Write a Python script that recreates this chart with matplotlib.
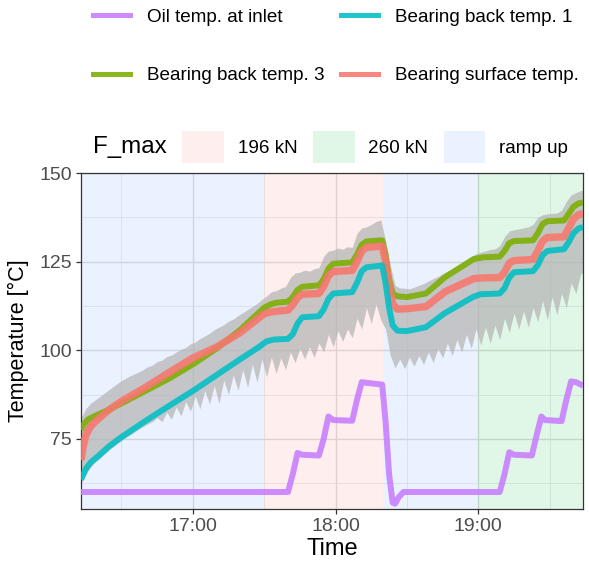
import matplotlib
matplotlib.use("Agg")
import matplotlib.pyplot as plt
import matplotlib.dates as mdates
from matplotlib.lines import Line2D
from matplotlib.patches import Patch
import pandas as pd

plt.rcParams["font.family"] = ["Liberation Sans", "DejaVu Sans"]

# test run started 16:00, times below are minutes after that
T0 = pd.Timestamp("2021-03-04 16:00")

def to_time(minutes):
    return T0 + pd.to_timedelta(list(minutes), unit="min")

# load phases
phase_start = [13, 90, 140, 180]
phase_end = [90, 140, 180, 224]
phase_label = ["ramp up", "196 kN", "ramp up", "260 kN"]
phase_levels = ["196 kN", "260 kN", "ramp up"]
phase_colors = ["#F8766D", "#00BA38", "#619CFF"]

# oil temperature at inlet
oil_t = [13, 100, 102, 104, 106, 113, 115, 117, 119, 127, 129, 131, 133, 139.6,
         141, 142.5, 144, 145, 146.5, 148.5, 189, 191, 193, 195, 202.5, 204.5,
         206.5, 208, 215, 217, 219, 221, 224]
oil_v = [60, 60, 65, 71, 70.5, 70.3, 75, 81.3, 80.3, 80.1, 86, 91, 90.8, 90.3,
         80, 65, 57, 56.7, 58.5, 60, 60, 65, 71.2, 70.5, 70.3, 76,
         81.3, 80.3, 80, 86, 91.2, 91, 90]

# bearing back temperature 1
back1_t = [13, 14, 15, 17, 20, 25, 30, 40, 50, 60, 70, 80, 88, 91, 94, 100, 102,
           104, 106, 113, 115, 117, 119, 127, 129, 131, 133, 139.6, 141, 142.5,
           144, 146, 150, 158, 166, 178, 181, 189, 191, 193, 195, 203, 205, 207,
           209, 216, 218, 220, 222, 224]
back1_v = [63.5, 65, 66.5, 68.3, 70, 73, 75.5, 80, 84.3, 88.5, 93, 97.5, 101,
           102.5, 103, 103.2, 104.5, 107.5, 109.3, 109.6, 111.5, 114.5, 116,
           116.4, 119, 122.3, 123.4, 123.9, 119, 112, 107, 105.5, 105.4, 106.5,
           110.5, 115.1, 115.8, 116, 117.5, 120.5, 122, 122.3, 124, 126.8, 128,
           128.5, 130.5, 133, 134.3, 134.8]

# bearing back temperature 3
back3_t = [13, 14, 16, 20, 25, 30, 40, 50, 60, 70, 80, 90, 93, 95, 100, 102, 104,
           106, 113, 115, 117, 119, 127, 129, 131, 133, 139.6, 141, 142.5, 144,
           146, 150, 158, 166, 178, 182, 189, 191, 193, 195, 203, 205, 207, 209,
           216, 218, 220, 222, 224]
back3_v = [77.5, 79, 80.5, 81.8, 83.3, 85, 88.5, 92, 96, 100.5, 105.8, 112, 113,
           113.4, 113.7, 115, 117, 117.9, 118.3, 120, 123, 124.4, 124.8, 127,
           129.8, 130.7, 131, 127, 120, 116, 115.2, 115, 116, 120.6, 125.7,
           126.2, 126.4, 128, 130.2, 130.8, 131, 133, 135.6, 136.4, 136.6, 138.5,
           140.5, 141.4, 141.7]

# bearing surface temperature
surf_t = [13, 14, 15, 17, 20, 25, 30, 40, 50, 60, 70, 80, 90, 93, 95, 100, 102,
          104, 106, 113, 115, 117, 119, 127, 129, 131, 133, 139.6, 141, 142.5,
          144, 146, 150, 158, 166, 178, 182, 189, 191, 193, 195, 203, 205, 207,
          209, 216, 218, 220, 222, 224]
surf_v = [69, 73, 76, 78.5, 80.5, 83.3, 85.6, 89.5, 93.7, 97.8, 100.9, 105,
          110.3, 110.8, 111, 111.3, 112.8, 114.8, 115.8, 116, 118, 121, 122.2,
          122.5, 125, 128, 129, 129.4, 125, 118, 113, 111.6, 111.7, 112.3, 116.5,
          120.2, 120.4, 120.5, 122, 124.6, 125.3, 125.6, 128, 130.8, 131.8, 132,
          134.5, 137, 138.2, 138.5]

# min / max over all bearing sensors
band_t = list(range(13, 224, 2)) + [224]
band_lo = [62.5, 65, 67, 68.5, 69.5, 70.8, 72, 73, 74, 75,
           75.8, 76.7, 77.6, 78.4, 79.2, 79.8, 81, 79.8, 82.5, 80.5,
           84, 81.5, 85.5, 82.8, 87, 83.5, 88.6, 84.8, 90, 85,
           91.5, 87.5, 93, 88.6, 94.5, 89.5, 96, 91, 97.5, 92.5,
           98, 93.5, 97.8, 94.5, 99.5, 96.5, 100.5, 97.5, 101, 98,
           102, 99.5, 104.5, 101, 105.5, 102.5, 106, 103.5, 109, 106,
           112, 107.5, 113, 108.5, 106, 98.5, 95, 97.5, 94.8, 98,
           95.5, 98.5, 96, 99.5, 96.5, 100.5, 97.8, 102, 98.5, 103,
           99.5, 104.5, 100.5, 106, 101.5, 106.5, 102, 107, 103, 109,
           105, 110.5, 106, 111, 106.5, 112, 108, 114, 108.6, 115,
           110, 116, 112, 119, 116, 121.5, 122]
band_hi = [81, 83.5, 85, 86, 87, 88, 89, 90, 91, 91.8,
           92.6, 93.2, 93.8, 94.5, 95.3, 95.8, 96.8, 97.2, 98.2, 98.6,
           99.5, 100.2, 100.8, 101.8, 102.3, 103.3, 104, 104.8, 105.8, 106.5,
           107.2, 108.2, 108.8, 109.8, 110.6, 111.5, 112.3, 113.2, 114.3, 115.3,
           116.5, 116.8, 117.5, 118, 120.5, 121.8, 122, 122.6, 122.3, 123,
           123.3, 126.5, 128, 128.2, 128.8, 128.5, 129.2, 129, 133, 134.5,
           134.8, 135.5, 136.3, 136.8, 131, 124, 118.3, 117.6, 117.5, 117.3,
           117.8, 118.3, 118.8, 119.5, 120.2, 120.8, 121.6, 122.3, 123, 123.8,
           124.6, 125.5, 126.4, 127.2, 127.6, 128, 128.4, 128.6, 129.5, 132,
           133.6, 134, 134.2, 134.5, 134.8, 135.5, 137.5, 138.2, 138.5, 138.6,
           138.7, 139.5, 142, 143.8, 144.5, 145, 145.2]

series_names = ["Oil temp. at inlet", "Bearing back temp. 1",
                "Bearing back temp. 3", "Bearing surface temp."]
series_colors = ["#C77CFF", "#00BFC4", "#7CAE00", "#F8766D"]

W, H = 589, 565
fig = plt.figure(figsize=(W / 100, H / 100), dpi=100)
ax = fig.add_axes([81 / W, 1 - 509 / H, (583 - 81) / W, (509 - 173) / H])

fill_of = dict(zip(phase_levels, phase_colors))
for s, e, lab in zip(phase_start, phase_end, phase_label):
    ax.axvspan(to_time([s])[0], to_time([e])[0], color=fill_of[lab],
               alpha=0.12, lw=0, zorder=1)

ax.fill_between(to_time(band_t), band_lo, band_hi, color="#B3B3B3",
                alpha=0.7, lw=0, zorder=2)

lw = 4.3
line_alpha = 0.88
ax.plot(to_time(back3_t), back3_v, color=series_colors[2], lw=lw, zorder=3,
        alpha=line_alpha, solid_capstyle="butt")
ax.plot(to_time(surf_t), surf_v, color=series_colors[3], lw=lw + 1, zorder=3,
        alpha=line_alpha, solid_capstyle="butt")
ax.plot(to_time(back1_t), back1_v, color=series_colors[1], lw=lw, zorder=3,
        alpha=line_alpha, solid_capstyle="butt")
ax.plot(to_time(oil_t), oil_v, color=series_colors[0], lw=lw, zorder=3,
        alpha=line_alpha, solid_capstyle="butt")

ax.set_xlim(to_time([13])[0], to_time([224])[0])
ax.set_ylim(55.2, 150)
ax.set_yticks([75, 100, 125, 150])
ax.set_yticks([62.5, 87.5, 112.5, 137.5], minor=True)
ax.xaxis.set_major_locator(mdates.HourLocator())
ax.xaxis.set_minor_locator(mdates.MinuteLocator(byminute=[30]))
ax.xaxis.set_major_formatter(mdates.DateFormatter("%H:%M"))

ax.grid(which="major", color="#DCDCDC", lw=1.0)
ax.grid(which="minor", color="#E6E6E6", lw=0.55)
ax.set_axisbelow(True)
for sp in ax.spines.values():
    sp.set_color("#333333")
    sp.set_linewidth(0.9)
ax.tick_params(which="major", length=3.6, width=0.9, color="#333333",
               labelsize=14, labelcolor="#4D4D4D", pad=3)
ax.tick_params(which="minor", length=0)

ax.set_xlabel("Time", fontsize=17, labelpad=2)
ax.set_ylabel("Temperature [°C]", fontsize=15.5, labelpad=7)

# colour legend, two rows filled row by row
fs_leg = 13.6
line_handles = [Line2D([], [], color=c, lw=3.6, alpha=line_alpha)
                for c in series_colors]
order = [0, 2, 1, 3]
fig.legend([line_handles[i] for i in order], [series_names[i] for i in order],
           ncol=2, loc="center left", bbox_to_anchor=(93 / W, 1 - 46.3 / H),
           frameon=False, fontsize=fs_leg, borderpad=0, borderaxespad=0,
           handlelength=1.98, handletextpad=0.9, columnspacing=0.85,
           labelspacing=2.2)

# load legend
box_handles = [Patch(facecolor=c, alpha=0.12, lw=0) for c in phase_colors]
fig.legend(box_handles, phase_levels, ncol=3, loc="center left",
           bbox_to_anchor=(182 / W, 1 - 147 / H), frameon=False,
           fontsize=fs_leg, borderpad=0, borderaxespad=0,
           handlelength=2.22, handleheight=2.17, handletextpad=0.72,
           columnspacing=0.82)
fig.text(93 / W, 1 - 147 / H, "F_max", fontsize=17.4, va="center", ha="left")

fig.savefig("out.png", dpi=100)
